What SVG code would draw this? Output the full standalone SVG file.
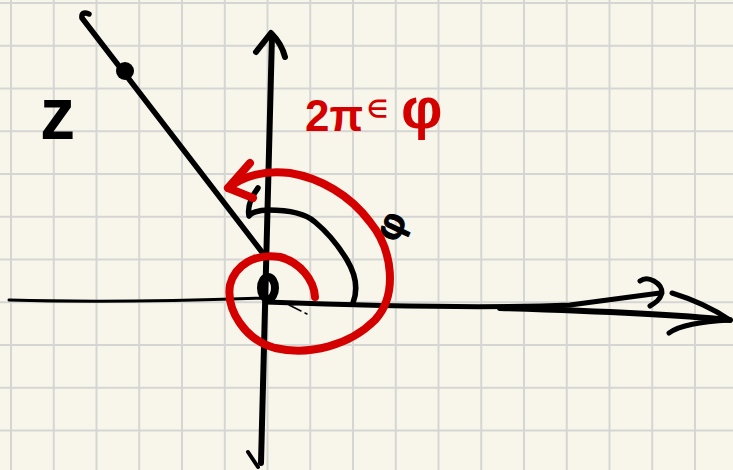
<svg xmlns="http://www.w3.org/2000/svg" width="733" height="470" viewBox="0 0 733 470">
<style>
.grid{stroke:#d5d5d3;stroke-width:2;fill:none}
.ink{stroke:#000;fill:none;stroke-linecap:round;stroke-linejoin:round}
.red{stroke:#d40000;fill:none;stroke-linecap:round;stroke-linejoin:round;stroke-width:8}
.hand{font-family:"Liberation Sans",Arial,sans-serif;font-weight:bold}
</style>
<rect width="733" height="470" fill="#f8f6eb"/>
<g id="grid" class="grid">
<path d="M11 0V470M53.75 0V470M96.5 0V470M139.25 0V470M182 0V470M224.75 0V470M267.5 0V470M310.25 0V470M353 0V470M395.75 0V470M438.5 0V470M481.25 0V470M524 0V470M566.75 0V470M609.5 0V470M652.25 0V470M695 0V470"/>
<path d="M0 3H733M0 45.75H733M0 88.5H733M0 131.25H733M0 174H733M0 216.75H733M0 259.5H733M0 302.25H733M0 345H733M0 387.75H733M0 430.5H733"/>
</g>
<g id="connectors">
<g id="x-axis" class="ink">
<path d="M9 300 C80 302 150 302 265 298" stroke-width="3"/>
<path d="M265 302 C400 307 500 308 570 305 L660 293" stroke-width="5"/>
<path d="M500 308 C600 311 680 315 730 320" stroke-width="6"/>
<path d="M600 311 L700 317" stroke-width="3"/>
<path d="M640 281 C648 275 662 283 662 293 C660 300 655 303 650 306" stroke-width="5"/>
<path d="M672 293 C695 300 715 310 730 320 C700 322 680 325 669 333" stroke-width="5"/>
</g>
<g id="y-axis" class="ink">
<path d="M272 35 C270 150 266 300 261 463" stroke-width="6"/>
<path d="M256 52 L271 33 C276 38 282 45 285 57" stroke-width="6"/>
<path d="M248 452 L258 467" stroke-width="4"/>
</g>
<g id="ray-z" class="ink">
<path d="M89 14 Q81 11 82 18 L265 256" stroke-width="5.5"/>
<circle cx="125" cy="71" r="9" fill="#000" stroke="none"/>
</g>
</g>
<g id="origin" class="ink">
<ellipse cx="268" cy="288" rx="7" ry="11" stroke-width="8"/>
<path d="M311 303 L289 305 L301 311 M305 313 L307 314" stroke-width="1.5"/>
</g>
<g id="angle-phi" class="ink">
<path d="M353 303 C358 290 356 275 347 260 C338 245 327 232 315 222 C305 213 290 210 268 210 C258 210 251 213 249 216 C247 206 252 196 258 188" stroke-width="5.5"/>
<text class="hand" x="0" y="0" font-size="38" fill="#000" font-weight="normal" transform="translate(393 227) rotate(-65)" text-anchor="middle" dominant-baseline="middle">φ</text>
</g>
<g id="spiral">
<path class="red" d="M315 297 C314 280 300 262 280 257 C255 253 235 265 230 285 C226 310 245 340 275 348 C310 356 350 345 375 320 C398 295 393 250 370 222 C350 195 320 178 290 173 C265 170 245 175 228 188"/>
<path class="red" d="M250 163 L228 188 L253 198" stroke-width="6"/>
</g>
<g id="label-z">
<text class="hand" x="40" y="139" font-size="74" fill="#000" transform="translate(40 0) scale(0.95 1) translate(-40 0)">z</text>
</g>
<g id="label-2pi-phi" class="hand" fill="#d40000">
<text x="305" y="131" font-size="44">2π</text>
<text x="367" y="117" font-size="24">∈</text>
<text x="401" y="128" font-size="58">φ</text>
</g>
</svg>
